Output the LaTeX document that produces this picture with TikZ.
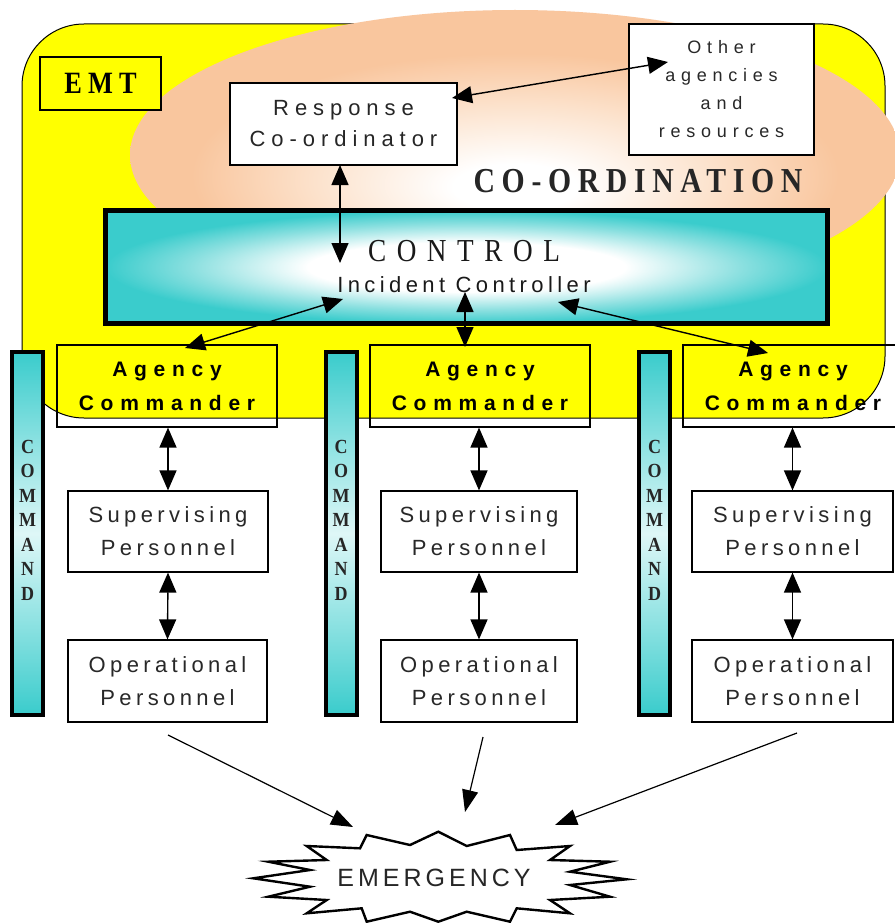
\documentclass[tikz,border=0pt]{standalone}
\usepackage{fontspec}
\usetikzlibrary{arrows.meta}
\setmainfont{Liberation Serif}
\setsansfont{Liberation Sans}
\newfontfamily\lsA[LetterSpace=27]{Liberation Sans}
\newfontfamily\lsB[LetterSpace=32]{Liberation Sans}
\newfontfamily\lsC[LetterSpace=20]{Liberation Sans}
\newfontfamily\lsD[LetterSpace=16]{Liberation Sans}
\newfontfamily\serA[LetterSpace=20,FakeStretch=0.85]{Liberation Serif}
\newfontfamily\serB[LetterSpace=33,FakeStretch=0.85]{Liberation Serif}
\newfontfamily\serC[LetterSpace=19,FakeStretch=0.85]{Liberation Serif}
\newfontfamily\serD[FakeStretch=0.9]{Liberation Serif}
\definecolor{yellowc}{RGB}{255,255,0}
\definecolor{peach}{RGB}{249,198,158}
\definecolor{peachmid}{RGB}{252,226,204}
\definecolor{tealc}{RGB}{58,204,204}
\definecolor{tealmid}{RGB}{140,224,224}
\definecolor{tealpale}{RGB}{222,247,247}
\definecolor{txtgray}{RGB}{40,40,40}
\pgfdeclareradialshading{peachsh}{\pgfpoint{0bp}{-6bp}}{color(0bp)=(white);color(4bp)=(white);color(13bp)=(peachmid);color(21bp)=(peach);color(50bp)=(peach)}
\pgfdeclareradialshading{ctrlsh}{\pgfpoint{0bp}{0bp}}{color(0bp)=(white);color(11bp)=(white);color(19bp)=(tealmid);color(25bp)=(tealc);color(50bp)=(tealc)}
\begin{document}
\begin{tikzpicture}[x=1pt,y=-1pt,
  box/.style={draw=black, line width=1.2pt, inner sep=0pt, align=center},
  wbox/.style={box, fill=white},
  dbl/.style={{Triangle[length=20pt,width=17pt]}-{Triangle[length=20pt,width=17pt]}, line width=1.4pt},
  sgl/.style={-{Triangle[length=22pt,width=16pt]}, line width=1.2pt},
  cmdbar/.style={draw=black, line width=4pt, inner sep=0pt, minimum width=31pt, minimum height=363pt, top color=tealc, bottom color=tealc, middle color=tealpale},
  cmdtxt/.style={align=center, inner sep=0pt, font=\serD\bfseries\fontsize{20}{24.5}\selectfont, text=black!85},
  agfont/.style={font=\lsB\bfseries\fontsize{21}{34}\selectfont},
  persfont/.style={font=\lsC\fontsize{22}{33}\selectfont, text=txtgray},
]
\useasboundingbox (0,0) rectangle (894,923);
\fill[white] (0,0) rectangle (894,923);
% EMT area
\draw[fill=yellowc, line width=1pt, rounded corners=62pt] (22,24) rectangle (885,418);
% co-ordination ellipse
\shade[shading=peachsh] (515,155) ellipse [x radius=385, y radius=145];
% control
\node[draw=black, line width=5pt, shade, shading=ctrlsh, minimum width=722pt, minimum height=113pt, inner sep=0pt] (ctrl) at (466.5,267) {};
\node[anchor=base, inner sep=0pt, font=\serB\fontsize{32}{36}\selectfont, text=black!90] (ctrltitle) at (464,261) {CONTROL};
\node[anchor=base, inner sep=0pt, font=\lsC\fontsize{22}{30}\selectfont, text=black!90] (ic) at (464,292) {Incident Controller};
% EMT label
\node[box, line width=1.8pt, fill=yellowc, minimum width=121pt, minimum height=53pt, font=\serA\bfseries\fontsize{31}{36}\selectfont] (emt) at (100.5,83.5) {EMT};
% response co-ordinator & other agencies
\node[wbox, minimum width=227pt, minimum height=82pt, font=\lsA\fontsize{22}{31}\selectfont, text=black!85] (resp) at (343.5,124) {Response\\Co-ordinator};
\node[wbox, minimum width=185pt, minimum height=131pt, font=\lsB\fontsize{18}{28}\selectfont, text=txtgray] (other) at (721.5,89.5) {Other\\agencies\\and\\resources};
\node[anchor=base, inner sep=0pt, font=\serC\bfseries\fontsize{35}{40}\selectfont, text=black!85] (coord) at (638,192) {CO-ORDINATION};
% command bars
\node[cmdbar] (cmd1) at (27.5,533.5) {};
\node[cmdbar] (cmd2) at (341,533.5) {};
\node[cmdbar] (cmd3) at (654.5,533.5) {};
\node[cmdtxt] (ct1) at (27.5,520) {C\\O\\M\\M\\A\\N\\D};
\node[cmdtxt] (ct2) at (341,520) {C\\O\\M\\M\\A\\N\\D};
\node[cmdtxt] (ct3) at (654.5,520) {C\\O\\M\\M\\A\\N\\D};
% agency commanders
\node[box, agfont, minimum width=220pt, minimum height=82pt] (ag1) at (167,386) {Agency\\Commander};
\node[box, agfont, minimum width=220pt, minimum height=82pt] (ag2) at (480,386) {Agency\\Commander};
\node[box, agfont, minimum width=220pt, minimum height=82pt] (ag3) at (793,386) {Agency\\Commander};
% supervising
\node[wbox, persfont, minimum width=200pt, minimum height=81pt] (sup1) at (168,531.5) {Supervising\\Personnel};
\node[wbox, persfont, minimum width=196pt, minimum height=81pt] (sup2) at (479,531.5) {Supervising\\Personnel};
\node[wbox, persfont, minimum width=201pt, minimum height=81pt] (sup3) at (792.5,531.5) {Supervising\\Personnel};
% operational
\node[wbox, persfont, minimum width=199pt, minimum height=82pt] (op1) at (167.5,681) {Operational\\Personnel};
\node[wbox, persfont, minimum width=196pt, minimum height=82pt] (op2) at (479,681) {Operational\\Personnel};
\node[wbox, persfont, minimum width=201pt, minimum height=82pt] (op3) at (792.5,681) {Operational\\Personnel};
% emergency starburst
\draw[line width=2.4pt, fill=white, line join=miter]
 (306.7,846) -- (360,848.3) -- (366.7,835) -- (410,845) -- (438.3,831.7) -- (466.7,846)
 -- (510,835) -- (516.7,850) -- (570,846) -- (550,860) -- (610,861.7) -- (570,871.7)
 -- (626.7,879.3) -- (570,885) -- (610,896.7) -- (550,900) -- (570,913.3) -- (516.7,908.3)
 -- (510,921.7) -- (466.7,911.7) -- (438.3,921.7) -- (410,911.7) -- (366.7,921.7) -- (361.7,908.3)
 -- (306.7,913.3) -- (326.7,900) -- (268.3,896.7) -- (310,886.7) -- (253.3,878.3) -- (310,870)
 -- (268.3,861.7) -- (326.7,860) -- cycle;
\node[inner sep=0pt, font=\lsD\fontsize{25}{30}\selectfont, text=black!85] (em) at (434,877.5) {EMERGENCY};
% coordinates for free arrow ends
\coordinate (rtip) at (452,98);
\coordinate (otip) at (668,62);
\coordinate (rbot) at (340,165);
\coordinate (ctop) at (340,263);
\coordinate (c1) at (343,299);
\coordinate (a1) at (185,348);
\coordinate (c2) at (465,292);
\coordinate (a2) at (465,347);
\coordinate (c3) at (558,302);
\coordinate (a3) at (768,353);
\coordinate (o1) at (168,735);
\coordinate (e1) at (353,827);
\coordinate (o2) at (483,737);
\coordinate (e2) at (465,812);
\coordinate (o3) at (797,733);
\coordinate (e3) at (555,825);
% connectors
\draw[dbl] (rtip) -- (otip);
\draw[dbl] (rbot) -- (ctop);
\draw[dbl] (c1) -- (a1);
\draw[dbl] (c2) -- (a2);
\draw[dbl] (c3) -- (a3);
\draw[dbl] (sup1.north |- ag1.south) -- (sup1.north);
\draw[dbl] (sup2.north |- ag2.south) -- (sup2.north);
\draw[dbl] (sup3.north |- ag3.south) -- (sup3.north);
\draw[dbl] (sup1.south) -- (op1.north);
\draw[dbl] (sup2.south) -- (op2.north);
\draw[dbl] (sup3.south) -- (op3.north);
\draw[sgl] (o1) -- (e1);
\draw[sgl] (o2) -- (e2);
\draw[sgl] (o3) -- (e3);
\end{tikzpicture}
\end{document}
